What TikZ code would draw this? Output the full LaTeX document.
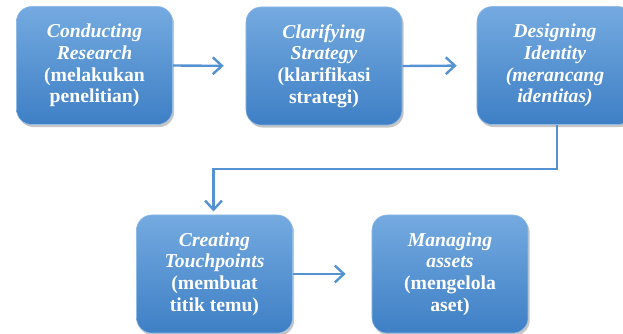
\documentclass[tikz,border=0pt]{standalone}
\usepackage{fontspec}
\setmainfont{Liberation Serif}
\usetikzlibrary{arrows.meta,shadows}
\definecolor{boxtop}{HTML}{74AAE0}
\definecolor{boxbot}{HTML}{3E7FC5}
\definecolor{linkblue}{HTML}{5592D2}
\begin{document}
\begin{tikzpicture}[x=0.025cm, y=-0.025cm,
    stage/.style = {rounded corners=0.38cm, minimum width=3.9cm, minimum height=2.95cm,
        top color=boxtop, bottom color=boxbot, draw=boxtop!80!white, line width=0.4pt,
        drop shadow={shadow xshift=1.2pt, shadow yshift=-1.8pt, opacity=0.45},
        text=white, align=center, font=\bfseries\fontsize{14}{15.4}\selectfont},
    link/.style = {draw=linkblue, line width=1.7pt, -{Straight Barb[length=6.5pt, width=12pt, line width=1.7pt]}}]
    \clip (0,0) rectangle (623,334);
    \useasboundingbox (0,0) rectangle (623,334);
    \node [stage] (research) at (94.5,65.5) {\textit{Conducting}\\\textit{Research}\\(melakukan\\penelitian)};
    \node [stage] (strategy) at (324,66) {\textit{Clarifying}\\\textit{Strategy}\\(klarifikasi\\strategi)};
    \node [stage] (identity) at (555,65.5) {\textit{Designing}\\\textit{Identity}\\\textit{(merancang}\\\textit{identitas)}};
    \node [stage] (touch) at (214.5,274) {\textit{Creating}\\\textit{Touchpoints}\\(membuat\\titik temu)};
    \node [stage] (assets) at (450,274) {\textit{Managing}\\\textit{assets}\\(mengelola\\aset)};
    \coordinate (bendR) at (557,169);
    \coordinate (bendL) at (213.5,169);
    \draw [link, shorten >=0.55cm] (research.east) -- (strategy.west);
    \draw [link, shorten >=0.5cm] (strategy.east) -- (identity.west);
    \draw [link, shorten >=0.08cm] (identity.south -| bendR) -- (bendR) -- (bendL) -- (touch.north -| bendL);
    \draw [link, shorten >=0.65cm] (touch.east) -- (assets.west);
\end{tikzpicture}
\end{document}
